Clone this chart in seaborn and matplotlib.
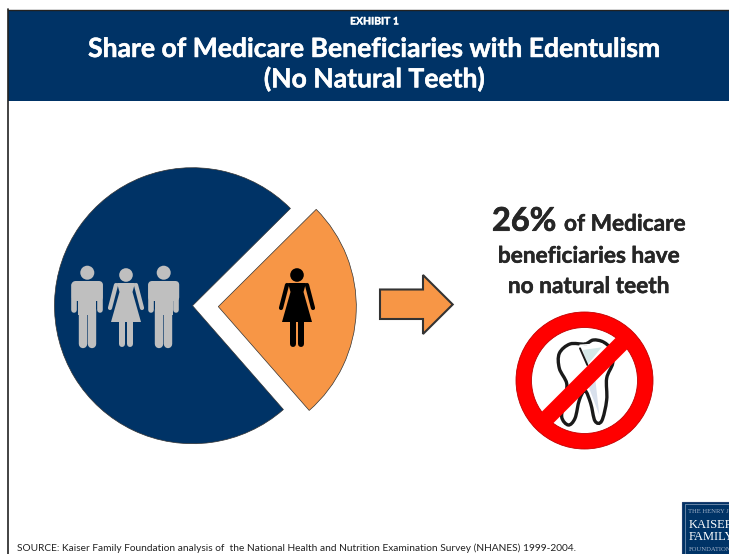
import matplotlib
matplotlib.use("Agg")
import matplotlib.pyplot as plt
import matplotlib.patheffects as pe
import seaborn as sns
from matplotlib.patches import Rectangle, Circle, Polygon, PathPatch, FancyBboxPatch
from matplotlib.path import Path
from matplotlib.lines import Line2D

# Share of beneficiaries, in percent
groups = ["No natural teeth", "Has natural teeth"]
shares = [26, 74]
group_colors = ["#F79646", "#003366"]

exhibit_label = "EXHIBIT 1"
title_lines = ["Share of Medicare Beneficiaries with Edentulism", "(No Natural Teeth)"]
callout_lines = ["beneficiaries have", "no natural teeth"]
source_note = ("SOURCE: Kaiser Family Foundation analysis of  the National Health and "
               "Nutrition Examination Survey (NHANES) 1999-2004.")
logo_lines = ["THE HENRY J.", "KAISER", "FAMILY", "FOUNDATION"]

W, H = 729, 554
NAVY = "#003366"
GREY = "#BFBFBF"
INK = "#262626"

sns.set_theme(style="white")
plt.rcParams["font.family"] = ["Lato", "DejaVu Sans"]

fig = plt.figure(figsize=(W / 100, H / 100), dpi=100, facecolor="white")

# Page layer measured in pixels, origin at the top left
page = fig.add_axes([0, 0, 1, 1])
page.set_xlim(0, W)
page.set_ylim(H, 0)
page.axis("off")


def heavy(color, width=0.35):
    # Thickens the bold face slightly
    return [pe.withStroke(linewidth=width, foreground=color)]


page.add_patch(Rectangle((8, 10), W, 90.5, fc=NAVY, ec="none"))
page.add_line(Line2D([8, 8], [9, H], color="#222222", lw=1.2))
page.add_line(Line2D([8, W], [9.5, 9.5], color="#222222", lw=1.0))

page.text(374.5, 22, exhibit_label, color="white", fontsize=7.5, fontweight="bold",
          ha="center", va="center", path_effects=heavy("white", 0.25))
page.text(374.5, 49, title_lines[0], color="white", fontsize=19.1, fontweight="bold",
          ha="center", va="center", path_effects=heavy("white"))
page.text(374.5, 79, title_lines[1], color="white", fontsize=19.1, fontweight="bold",
          ha="center", va="center", path_effects=heavy("white"))

# Exploded pie
cx, cy, r = 192.5, 305.7, 138
span = 1.3 * r
pie_ax = fig.add_axes([(cx - span) / W, 1 - (cy + span) / H, 2 * span / W, 2 * span / H],
                      zorder=1)
pie_ax.pie(shares, colors=group_colors, startangle=-48.8, explode=[0.187, 0],
           radius=1.0, wedgeprops=dict(edgecolor="#333333", linewidth=0.5))
pie_ax.set_xlim(-1.3, 1.3)
pie_ax.set_ylim(-1.3, 1.3)
pie_ax.patch.set_alpha(0)

# Icon layer above the pie
icons = fig.add_axes([0, 0, 1, 1], zorder=2)
icons.set_xlim(0, W)
icons.set_ylim(H, 0)
icons.axis("off")
icons.patch.set_alpha(0)


def limb(xs, ys, width, color):
    icons.add_line(Line2D(xs, ys, color=color, lw=width * 0.72,
                          solid_capstyle="round", solid_joinstyle="round"))


def man(x, color):
    icons.add_patch(Circle((x, 272.7), 7, fc=color, ec="none"))
    icons.add_patch(FancyBboxPatch((x - 15.5, 281), 31, 20, boxstyle="round,pad=0,rounding_size=4",
                                   fc=color, ec="none"))
    limb([x - 12.8, x - 12.8], [285, 310], 5.6, color)
    limb([x + 12.8, x + 12.8], [285, 310], 5.6, color)
    icons.add_patch(Rectangle((x - 9, 285), 18, 30, fc=color, ec="none"))
    limb([x - 4.6, x - 4.6], [310, 344], 8.4, color)
    limb([x + 4.6, x + 4.6], [310, 344], 8.4, color)


def woman(x, color):
    icons.add_patch(Circle((x, 275), 6.8, fc=color, ec="none"))
    icons.add_patch(Polygon([(x - 9, 283), (x + 9, 283), (x + 6.5, 292), (x + 15, 322),
                             (x - 15, 322), (x - 6.5, 292)], fc=color, ec="none"))
    limb([x - 10, x - 16], [285, 308], 4.2, color)
    limb([x + 10, x + 16], [285, 308], 4.2, color)
    limb([x - 4, x - 4], [320, 344], 6, color)
    limb([x + 4, x + 4], [320, 344], 6, color)


man(87.3, GREY)
woman(126, GREY)
man(163.7, GREY)
woman(297, "black")

# Arrow pointing from the pie to the callout
page.add_patch(Polygon([(380, 289.5), (423, 289.5), (423, 275), (452.7, 304.5), (423, 334),
                        (423, 319), (380, 319)], closed=True, fc="#F79646", ec="#333333",
                       lw=1.5))

# Callout
page.text(492, 230.7, "26%", color=INK, fontsize=23.4, fontweight="bold", ha="left",
          va="baseline", path_effects=heavy(INK, 0.5))
page.text(564, 230.7, "of Medicare", color=INK, fontsize=16.3, fontweight="bold",
          ha="left", va="baseline", path_effects=heavy(INK))
page.text(589, 262.7, callout_lines[0], color=INK, fontsize=16.3, fontweight="bold",
          ha="center", va="baseline", path_effects=heavy(INK))
page.text(588.5, 293, callout_lines[1], color=INK, fontsize=16.3, fontweight="bold",
          ha="center", va="baseline", path_effects=heavy(INK))


def smooth_closed(points):
    # Closed Catmull-Rom curve expressed as cubic Bezier segments
    n = len(points)
    verts = [points[0]]
    codes = [Path.MOVETO]
    for i in range(n):
        p0, p1, p2, p3 = points[i - 1], points[i], points[(i + 1) % n], points[(i + 2) % n]
        c1 = (p1[0] + (p2[0] - p0[0]) / 6, p1[1] + (p2[1] - p0[1]) / 6)
        c2 = (p2[0] - (p3[0] - p1[0]) / 6, p2[1] - (p3[1] - p1[1]) / 6)
        verts += [c1, c2, p2]
        codes += [Path.CURVE4] * 3
    return Path(verts, codes)


# Tooth outline with highlights
tx = lambda zx: 500 + zx / 3
ty = lambda zy: 320 + zy / 3
tooth_pts = [(255, 72), (210, 72), (178, 100), (178, 145), (200, 190), (195, 235), (185, 290),
             (205, 315), (225, 295), (238, 240), (255, 212), (272, 250), (285, 303), (305, 303),
             (320, 240), (320, 175), (338, 130), (335, 90), (310, 66), (280, 60)]
tooth = smooth_closed([(tx(a), ty(b)) for a, b in tooth_pts])
page.add_patch(PathPatch(tooth, fc="white", ec="#1A1A1A", lw=2.4))
page.add_patch(Polygon([(tx(248), ty(90)), (tx(305), ty(82)), (tx(262), ty(135))],
                       fc="#D5E8E8", ec="none"))
page.add_patch(Polygon([(tx(262), ty(190)), (tx(285), ty(170)), (tx(298), ty(285))],
                       fc="#D8E0EC", ec="none"))
page.add_line(Line2D([tx(240), tx(262)], [ty(85), ty(135)], color="#1A1A1A", lw=1.4))
page.add_line(Line2D([tx(240), tx(305)], [ty(76), ty(72)], color="white", lw=1.2))

# Prohibition sign over the tooth
bx, by, r_out, r_in = 584.5, 380.5, 68.5, 53
page.add_patch(Circle((bx, by), (r_out + r_in) / 2, fc="none", ec="#FF0000",
                      lw=(r_out - r_in) * 0.72))
page.add_patch(Circle((bx, by), r_out, fc="none", ec="#C00000", lw=0.6))
page.add_patch(Circle((bx, by), r_in, fc="none", ec="#C00000", lw=0.6))
dx = (r_in + 3) * 0.7071
page.add_line(Line2D([bx - dx, bx + dx], [by + dx, by - dx], color="#FF0000", lw=11.7,
                     solid_capstyle="butt"))

# Source note
page.text(17, 548.5, source_note, color="#222222", fontsize=7.25, ha="left", va="center")

# Foundation logo, running off the page edge
page.add_patch(Rectangle((682.5, 501.5), 60, 60, fc=NAVY, ec="#1F3F6F", lw=0.8))
page.add_patch(Rectangle((685, 504), 60, 60, fc="none", ec="#8FA3BF", lw=0.5))
serif = "Liberation Serif"
page.text(688.5, 511.5, logo_lines[0], color="#9FB0C8", fontsize=4.8, family=serif, va="center")
page.text(688.5, 525, logo_lines[1], color="white", fontsize=9, family=serif, va="center")
page.text(688.5, 537, logo_lines[2], color="white", fontsize=9, family=serif, va="center")
page.text(688.5, 549.5, logo_lines[3], color="#9FB0C8", fontsize=4.8, family=serif, va="center")

fig.savefig("out.png", dpi=100, facecolor="white")
